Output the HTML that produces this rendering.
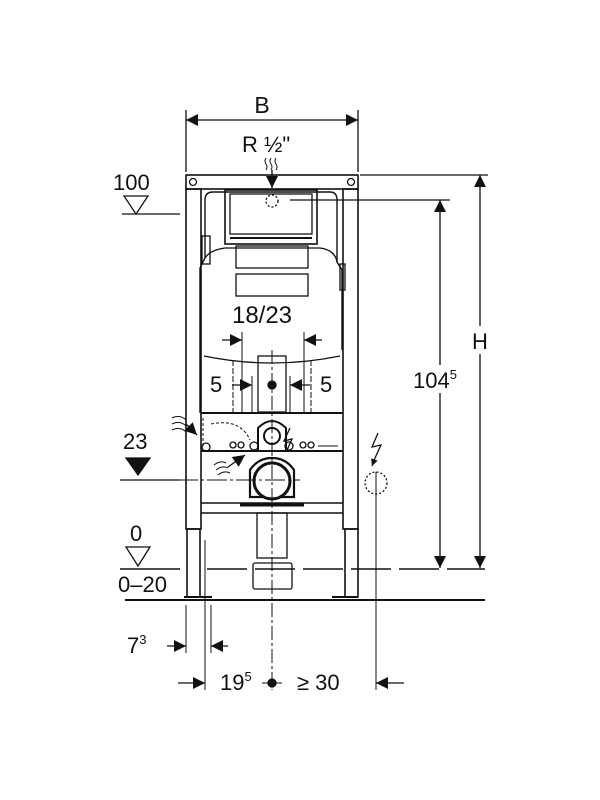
<!DOCTYPE html>
<html><head><meta charset="utf-8"><style>
html,body{margin:0;padding:0;background:#fff;}
svg{display:block;}
text{font-family:"Liberation Sans",sans-serif;fill:#111;}
</style></head><body>
<svg width="600" height="800" viewBox="0 0 600 800" xmlns="http://www.w3.org/2000/svg">
<defs>
<marker id="ar" viewBox="0 0 10 10" refX="10" refY="5" markerWidth="7" markerHeight="7" orient="auto-start-reverse" markerUnits="userSpaceOnUse"><path d="M0,0 L10,5 L0,10z" fill="#111"/></marker>
<marker id="arb" viewBox="0 0 10 10" refX="10" refY="5" markerWidth="14" markerHeight="12" orient="auto-start-reverse" markerUnits="userSpaceOnUse"><path d="M0,0 L10,5 L0,10z" fill="#111"/></marker>
</defs>
<g stroke="#111" fill="none" stroke-width="1.3">
<line x1="186" y1="110" x2="186" y2="172"/>
<line x1="358" y1="110" x2="358" y2="172"/>
<line x1="186" y1="120" x2="358" y2="120" marker-start="url(#arb)" marker-end="url(#arb)"/>
<path d="M266,170 q2,-3 0,-6 q-2,-3 0,-6 M271,170 q2,-3 0,-6 q-2,-3 0,-6 M276,170 q2,-3 0,-6 q-2,-3 0,-6" stroke-width="1"/>
<line x1="272" y1="170" x2="272" y2="188" marker-end="url(#arb)"/>
<circle cx="272" cy="201" r="6" stroke-dasharray="2,2"/>
<path d="M124,196 L148,196 L136,214z"/>
<line x1="122" y1="214" x2="180" y2="214"/>
<rect x="186" y="175" width="172" height="14" stroke-width="1.6"/>
<circle cx="193" cy="182" r="3.5"/><circle cx="351" cy="182" r="3.5"/>
<rect x="186" y="189" width="15" height="340" stroke-width="1.6"/>
<rect x="343" y="189" width="15" height="340" stroke-width="1.6"/>
<rect x="187" y="529" width="13" height="68" stroke-width="1.6"/>
<rect x="345" y="529" width="13" height="68" stroke-width="1.6"/>
<line x1="184" y1="597" x2="212" y2="597" stroke-width="2"/>
<line x1="332" y1="597" x2="358" y2="597" stroke-width="2"/>
<path d="M205,200 Q205,192 213,192 L330,192 Q337,192 337,200 L337,262 L342,270 L342,350 M205,200 L205,258 L200,268 L200,413" stroke-width="1.4"/>
<rect x="225" y="190" width="92" height="54" stroke-width="1.6"/>
<rect x="230" y="194" width="82" height="40"/>
<line x1="230" y1="238" x2="312" y2="238" stroke-width="2"/>
<path d="M205,258 Q210,250 225,248 L320,248 Q335,250 337,262"/>
<rect x="236" y="246" width="72" height="22"/>
<rect x="236" y="274" width="72" height="22"/>
<path d="M204,356 Q272,370 340,356"/>
<rect x="258" y="356" width="28" height="56"/>
<rect x="202" y="236" width="8" height="28"/>
<rect x="340" y="264" width="5" height="26"/>
<line x1="290" y1="200" x2="450" y2="200"/>
<line x1="440" y1="200" x2="440" y2="568" marker-start="url(#arb)" marker-end="url(#arb)"/>
<line x1="360" y1="175" x2="488" y2="175"/>
<line x1="480" y1="175" x2="480" y2="568" marker-start="url(#arb)" marker-end="url(#arb)"/>
<line x1="242" y1="332" x2="242" y2="412" stroke-width="1"/>
<line x1="304" y1="332" x2="304" y2="412" stroke-width="1"/>
<line x1="222" y1="340" x2="242" y2="340" marker-end="url(#arb)"/>
<line x1="322" y1="340" x2="304" y2="340" marker-end="url(#arb)"/>
<line x1="233" y1="360" x2="233" y2="415" stroke-width="1" stroke-dasharray="6,2"/>
<line x1="311" y1="360" x2="311" y2="415" stroke-width="1" stroke-dasharray="6,2"/>
<line x1="252" y1="376" x2="252" y2="413" stroke-width="1"/>
<line x1="290" y1="376" x2="290" y2="413" stroke-width="1"/>
<line x1="232" y1="385" x2="252" y2="385" marker-end="url(#arb)"/>
<line x1="310" y1="385" x2="290" y2="385" marker-end="url(#arb)"/>
<circle cx="272" cy="385" r="4" fill="#111"/>
<line x1="201" y1="413" x2="343" y2="413" stroke-width="2"/>
<line x1="201" y1="451" x2="343" y2="451" stroke-width="2"/>
<line x1="201" y1="503" x2="343" y2="503" stroke-width="1.6"/>
<line x1="201" y1="513" x2="343" y2="513" stroke-width="1.4"/>
<circle cx="206" cy="447" r="4"/><circle cx="233" cy="445" r="3"/><circle cx="241" cy="445" r="3"/>
<circle cx="254" cy="446" r="4"/><circle cx="289" cy="446" r="4"/><circle cx="303" cy="445" r="3"/><circle cx="311" cy="445" r="3"/>
<line x1="318" y1="446" x2="338" y2="446" stroke-width="1"/>
<path d="M211,424 Q240,418 250,440" stroke-dasharray="3,2" stroke-width="1"/>
<path d="M203,418 L203,446" stroke-dasharray="3,2" stroke-width="1"/>
<path d="M258,450 L258,428 Q272,414 286,428 L286,450" stroke-width="2"/>
<circle cx="272" cy="436" r="8" stroke-width="2"/>
<path d="M250,497 L250,470 Q258,458 272,458 Q286,458 294,470 L294,497z" stroke-width="2.2"/>
<circle cx="272" cy="481" r="18" stroke-width="3" fill="#fff"/>
<line x1="240" y1="505" x2="304" y2="505" stroke-width="3"/>
<rect x="257" y="513" width="30" height="45"/>
<rect x="253" y="563" width="39" height="26" rx="2"/>
<line x1="272" y1="350" x2="272" y2="690" stroke-width="1" stroke-dasharray="14,3,3,3"/>
<line x1="120" y1="480" x2="300" y2="480" stroke-width="1" stroke-dasharray="20,3,3,3"/>
<path d="M378,433 L372,447 L381,445 L375,458" stroke-width="1.3"/>
<line x1="375" y1="458" x2="372" y2="466" marker-end="url(#ar)"/>
<circle cx="376" cy="483" r="11" stroke-dasharray="2,2"/>
<line x1="376" y1="472" x2="376" y2="690" stroke-width="1"/>
<path d="M290,428 L284,441 L292,439 L287,450" stroke-width="1.3"/>
<path d="M172,418 q8,-4 14,2 M172,424 q8,-4 14,2 M172,430 q8,-4 14,2" stroke-width="1"/>
<line x1="186" y1="424" x2="197" y2="435" marker-end="url(#arb)"/>
<path d="M216,470 q6,-5 12,-2 M214,465 q6,-5 12,-2 M218,475 q6,-5 12,-2" stroke-width="1"/>
<line x1="228" y1="467" x2="245" y2="455" marker-end="url(#arb)"/>
<path d="M126,458 L150,458 L138,475z" fill="#111"/>
<line x1="120" y1="480" x2="180" y2="480"/>
<path d="M126,547 L150,547 L138,566z"/>
<line x1="120" y1="569" x2="180" y2="569" stroke-width="1.6"/>
<line x1="207" y1="569" x2="485" y2="569" stroke-width="1.6" stroke-dasharray="40,8"/>
<line x1="125" y1="600" x2="485" y2="600" stroke-width="2"/>
<line x1="186" y1="605" x2="186" y2="653" stroke-width="1"/>
<line x1="211" y1="605" x2="211" y2="653" stroke-width="1"/>
<line x1="205" y1="540" x2="205" y2="690" stroke-width="1"/>
<line x1="167" y1="646" x2="186" y2="646" marker-end="url(#arb)"/>
<line x1="228" y1="646" x2="211" y2="646" marker-end="url(#arb)"/>
<line x1="178" y1="683" x2="205" y2="683" marker-end="url(#arb)"/>
<line x1="404" y1="683" x2="376" y2="683" marker-end="url(#arb)"/>
<circle cx="272" cy="683" r="4" fill="#111"/>
<line x1="262" y1="683" x2="282" y2="683" stroke-width="1"/>
</g>
<rect x="464" y="326" width="32" height="28" fill="#fff"/>
<rect x="412" y="365" width="60" height="28" fill="#fff"/>
<text x="262" y="113" font-size="23" text-anchor="middle">B</text>
<text x="242" y="152" font-size="22">R ½"</text>
<text x="113" y="190" font-size="22">100</text>
<text x="262" y="323" font-size="24" text-anchor="middle">18/23</text>
<text x="210" y="392" font-size="22">5</text>
<text x="320" y="392" font-size="22">5</text>
<text x="480" y="349" font-size="22" text-anchor="middle">H</text>
<text x="413" y="388" font-size="22">104<tspan font-size="13" dy="-9">5</tspan></text>
<text x="123" y="449" font-size="22">23</text>
<text x="130" y="541" font-size="22">0</text>
<text x="118" y="592" font-size="22">0–20</text>
<text x="127" y="653" font-size="22">7<tspan font-size="13" dy="-9">3</tspan></text>
<text x="220" y="690" font-size="22">19<tspan font-size="13" dy="-9">5</tspan></text>
<text x="297" y="690" font-size="22">≥ 30</text>
</svg>
</body></html>
